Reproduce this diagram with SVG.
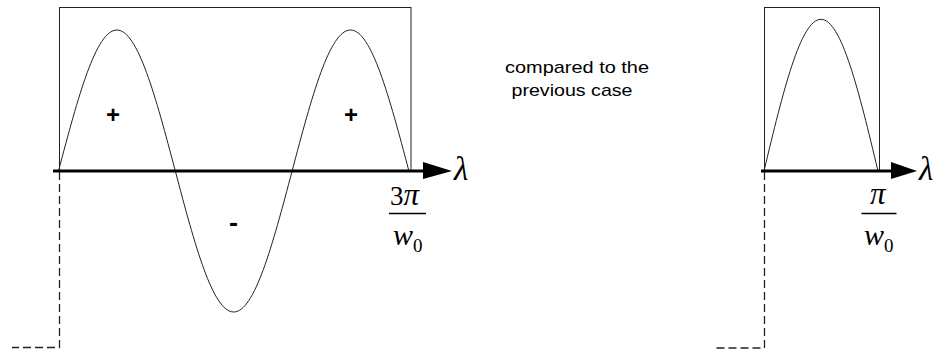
<svg xmlns="http://www.w3.org/2000/svg" width="937" height="352" viewBox="0 0 937 352">
<style>
.frame{fill:none;stroke:#222;stroke-width:1}
.wave{fill:none;stroke:#222;stroke-width:1}
.axis{stroke:#000;stroke-width:3}
.head{fill:#000}
.dash{fill:none;stroke:#222;stroke-width:1.3;stroke-dasharray:8 4}
.sign{font-family:"Liberation Sans",Arial,sans-serif;font-weight:bold;fill:#000;text-anchor:middle}
.math{font-family:"Liberation Serif","Times New Roman",serif;fill:#000}
.note{font-family:"Liberation Sans",Arial,sans-serif;font-size:17px;fill:#000}
.bar{stroke:#000;stroke-width:1.3}
</style>
<rect width="937" height="352" fill="#fff"/>
<g id="left-plot">
<rect class="frame" x="59.5" y="7.5" width="351.5" height="163.5"/>
<path class="wave" d="M58.5,171 c19.52,-74.04 37.49,-141 58.4,-141 s38.88,66.96 58.4,141 s37.49,141 58.4,141 s38.88,-66.96 58.4,-141 s37.49,-141 58.4,-141 s38.88,66.96 58.4,141"/>
<text class="sign" x="113" y="123" font-size="24">+</text>
<text class="sign" x="351" y="123" font-size="24">+</text>
<text class="sign" x="233.5" y="231" font-size="26" textLength="9" lengthAdjust="spacingAndGlyphs">-</text>
<text class="math" x="390" y="205"><tspan font-size="27">3</tspan><tspan font-size="31" font-style="italic">π</tspan></text>
<line class="bar" x1="389" y1="213.5" x2="426" y2="213.5"/>
<text class="math" x="393" y="245" font-size="30" font-style="italic">w</text>
<text class="math" x="413" y="251.5" font-size="19">0</text>
<text class="math" x="454" y="180" font-size="33" font-style="italic">λ</text>
</g>
<g id="right-plot">
<rect class="frame" x="764.5" y="7.5" width="115" height="163.5"/>
<path class="wave" d="M764,171 c19.06,-79.66 36.59,-151.7 57,-151.7 s37.94,72.04 57,151.7"/>
<text class="math" x="870" y="204" font-size="31" font-style="italic">π</text>
<line class="bar" x1="861.5" y1="213.5" x2="896.5" y2="213.5"/>
<text class="math" x="864" y="245" font-size="30" font-style="italic">w</text>
<text class="math" x="884" y="251.5" font-size="19">0</text>
<text class="math" x="919" y="180" font-size="33" font-style="italic">λ</text>
</g>
<g id="note">
<text class="note" x="505" y="72.5" textLength="144" lengthAdjust="spacingAndGlyphs">compared to the</text>
<text class="note" x="511.5" y="96" textLength="121" lengthAdjust="spacingAndGlyphs">previous case</text>
</g>
<g id="connectors">
<line class="axis" x1="53" y1="171" x2="426" y2="171"/>
<polygon class="head" points="423,162 452,171 423,179"/>
<path class="dash" d="M59.5,172 V347.5 H12"/>
<line class="axis" x1="761" y1="171" x2="893" y2="171"/>
<polygon class="head" points="891,162 917,171 891,179"/>
<path class="dash" d="M764.5,172 V348 H716.5"/>
</g>
</svg>
